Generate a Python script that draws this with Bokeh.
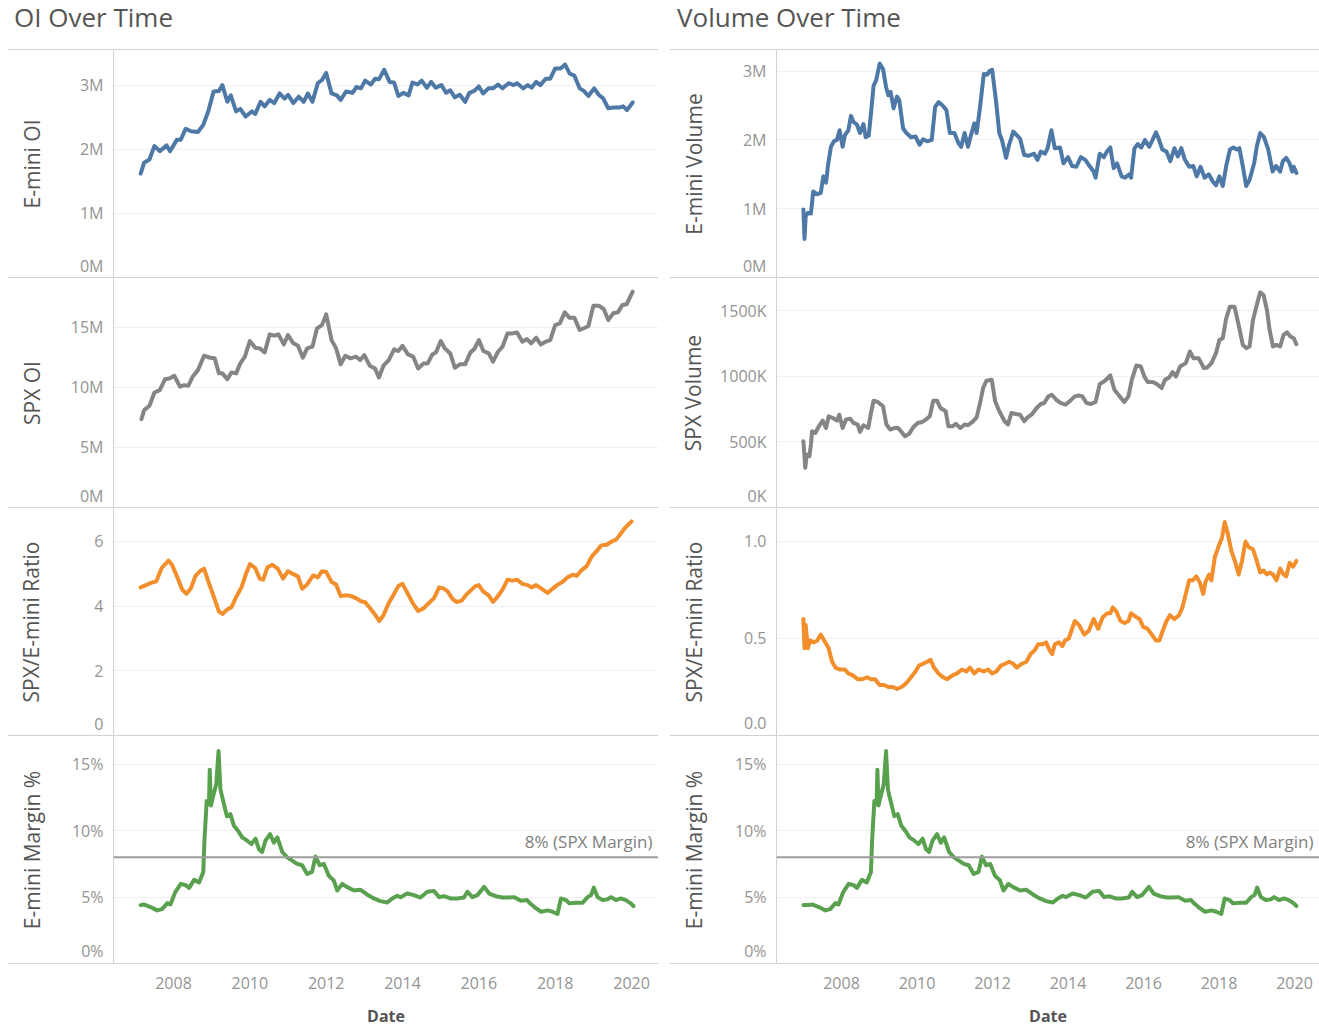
from bokeh.plotting import figure
from bokeh.models import Div, Span, Label, FixedTicker, PrintfTickFormatter, LinearAxis, Range1d
from bokeh.layouts import column, row
from bokeh.embed import file_html
from bokeh.resources import INLINE

# ---------------- data (decimal years, values) ----------------
emini_oi_t = [2007.14, 2007.23, 2007.37, 2007.50, 2007.64, 2007.82, 2007.91, 2008.09, 2008.19, 2008.32,
              2008.46, 2008.64, 2008.78, 2008.91, 2009.05, 2009.19, 2009.28, 2009.41, 2009.50, 2009.64,
              2009.75, 2009.89, 2010.05, 2010.14, 2010.28, 2010.39, 2010.52, 2010.64, 2010.78, 2010.91,
              2011.00, 2011.14, 2011.28, 2011.41, 2011.52, 2011.64, 2011.78, 2011.89, 2012.00, 2012.14,
              2012.28, 2012.38, 2012.52, 2012.69, 2012.79, 2012.91, 2013.02, 2013.17, 2013.28, 2013.38,
              2013.52, 2013.66, 2013.78, 2013.89, 2014.02, 2014.16, 2014.26, 2014.39, 2014.50, 2014.64,
              2014.75, 2014.87, 2015.02, 2015.14, 2015.25, 2015.37, 2015.50, 2015.64, 2015.75, 2015.88,
              2016.00, 2016.11, 2016.25, 2016.37, 2016.50, 2016.62, 2016.78, 2016.91, 2017.00, 2017.16,
              2017.28, 2017.38, 2017.50, 2017.61, 2017.75, 2017.87, 2018.00, 2018.14, 2018.26, 2018.38,
              2018.50, 2018.64, 2018.75, 2018.87, 2019.02, 2019.14, 2019.26, 2019.39, 2019.53, 2019.68,
              2019.78, 2019.88, 2020.03]
emini_oi_m = [1.62, 1.79, 1.84, 2.05, 1.97, 2.06, 1.97, 2.15, 2.15, 2.32,
              2.28, 2.27, 2.38, 2.59, 2.90, 2.91, 3.00, 2.74, 2.84, 2.59,
              2.63, 2.51, 2.59, 2.55, 2.74, 2.67, 2.77, 2.72, 2.87, 2.79,
              2.85, 2.72, 2.82, 2.74, 2.87, 2.74, 3.03, 3.08, 3.19, 2.87,
              2.84, 2.77, 2.90, 2.88, 2.97, 2.95, 3.07, 3.01, 3.10, 3.09,
              3.24, 3.05, 3.04, 2.83, 2.88, 2.84, 3.04, 3.01, 3.07, 2.96,
              3.05, 2.96, 3.00, 2.88, 2.92, 2.81, 2.85, 2.74, 2.88, 2.91,
              2.98, 2.87, 2.95, 2.95, 3.01, 2.95, 3.03, 3.00, 3.03, 2.95,
              3.00, 2.96, 3.05, 3.00, 3.10, 3.10, 3.26, 3.26, 3.32, 3.18,
              3.15, 2.95, 2.91, 2.83, 2.95, 2.85, 2.79, 2.64, 2.65, 2.65,
              2.67, 2.61, 2.73]

spx_oi_t = [2007.16, 2007.23, 2007.37, 2007.50, 2007.64, 2007.78, 2007.89, 2008.02, 2008.17, 2008.28,
            2008.39, 2008.50, 2008.64, 2008.80, 2008.96, 2009.08, 2009.19, 2009.28, 2009.41, 2009.52,
            2009.64, 2009.75, 2009.87, 2010.00, 2010.14, 2010.26, 2010.39, 2010.52, 2010.64, 2010.75,
            2010.89, 2011.00, 2011.14, 2011.26, 2011.39, 2011.50, 2011.64, 2011.76, 2011.89, 2012.00,
            2012.14, 2012.26, 2012.38, 2012.50, 2012.64, 2012.78, 2012.89, 2013.00, 2013.14, 2013.28,
            2013.38, 2013.50, 2013.64, 2013.78, 2013.89, 2014.00, 2014.14, 2014.28, 2014.41, 2014.55,
            2014.66, 2014.78, 2014.88, 2015.00, 2015.11, 2015.25, 2015.37, 2015.50, 2015.64, 2015.78,
            2015.88, 2016.00, 2016.12, 2016.26, 2016.37, 2016.50, 2016.62, 2016.75, 2016.88, 2017.00,
            2017.14, 2017.26, 2017.37, 2017.50, 2017.62, 2017.75, 2017.87, 2018.00, 2018.12, 2018.25,
            2018.37, 2018.50, 2018.64, 2018.78, 2018.87, 2019.00, 2019.14, 2019.27, 2019.39, 2019.52,
            2019.64, 2019.76, 2019.87, 2020.03]
spx_oi_m = [7.36, 8.11, 8.47, 9.58, 9.78, 10.69, 10.75, 10.97, 10.06, 10.19,
            10.14, 10.89, 11.44, 12.64, 12.47, 12.42, 11.17, 11.17, 10.69, 11.25,
            11.17, 12.00, 12.56, 13.86, 13.31, 13.25, 12.92, 14.42, 14.31, 14.42,
            13.58, 14.36, 13.67, 13.47, 12.47, 13.25, 13.39, 14.92, 15.19, 16.08,
            13.94, 13.25, 11.92, 12.64, 12.42, 12.56, 12.28, 12.69, 11.81, 11.58,
            10.83, 11.81, 12.28, 13.17, 13.03, 13.47, 12.75, 12.56, 11.58, 12.00,
            12.00, 12.75, 12.92, 13.86, 13.25, 12.83, 11.64, 11.92, 11.92, 12.92,
            13.19, 13.94, 13.03, 12.83, 12.14, 12.97, 13.39, 14.50, 14.50, 14.58,
            13.81, 14.03, 13.67, 14.14, 13.58, 13.81, 13.94, 15.19, 15.33, 16.25,
            15.81, 15.81, 14.78, 14.97, 15.11, 16.81, 16.81, 16.53, 15.61, 16.17,
            16.25, 16.86, 16.92, 17.97]

oi_ratio_t = [2007.14, 2007.28, 2007.41, 2007.55, 2007.69, 2007.87, 2007.96, 2008.09, 2008.23, 2008.34,
              2008.46, 2008.57, 2008.69, 2008.80, 2008.91, 2009.05, 2009.19, 2009.29, 2009.41, 2009.52,
              2009.64, 2009.78, 2009.89, 2010.00, 2010.14, 2010.26, 2010.35, 2010.46, 2010.59, 2010.73,
              2010.87, 2011.00, 2011.14, 2011.26, 2011.37, 2011.50, 2011.66, 2011.78, 2011.89, 2012.00,
              2012.14, 2012.26, 2012.38, 2012.52, 2012.66, 2012.79, 2012.91, 2013.02, 2013.14, 2013.28,
              2013.39, 2013.50, 2013.64, 2013.78, 2013.89, 2014.00, 2014.14, 2014.28, 2014.41, 2014.55,
              2014.69, 2014.82, 2014.96, 2015.08, 2015.18, 2015.32, 2015.41, 2015.55, 2015.66, 2015.78,
              2015.91, 2016.00, 2016.11, 2016.25, 2016.37, 2016.50, 2016.62, 2016.75, 2016.88, 2017.00,
              2017.14, 2017.28, 2017.38, 2017.50, 2017.64, 2017.80, 2017.93, 2018.05, 2018.19, 2018.32,
              2018.46, 2018.57, 2018.68, 2018.82, 2018.96, 2019.09, 2019.21, 2019.35, 2019.48, 2019.59,
              2019.71, 2019.82, 2020.00]
oi_ratio = [4.58, 4.65, 4.72, 4.77, 5.18, 5.41, 5.28, 4.92, 4.51, 4.38,
            4.56, 4.92, 5.08, 5.16, 4.77, 4.31, 3.83, 3.76, 3.90, 3.97,
            4.28, 4.58, 4.97, 5.30, 5.18, 4.85, 4.82, 5.20, 5.28, 5.16,
            4.85, 5.08, 4.99, 4.92, 4.54, 4.67, 4.95, 4.89, 5.08, 5.06,
            4.75, 4.67, 4.31, 4.34, 4.31, 4.24, 4.15, 4.12, 3.95, 3.74,
            3.54, 3.72, 4.10, 4.38, 4.62, 4.69, 4.38, 4.07, 3.85, 3.93,
            4.10, 4.24, 4.58, 4.54, 4.46, 4.21, 4.13, 4.17, 4.34, 4.48,
            4.62, 4.65, 4.46, 4.34, 4.13, 4.31, 4.51, 4.82, 4.79, 4.82,
            4.69, 4.65, 4.58, 4.65, 4.54, 4.41, 4.54, 4.65, 4.75, 4.89,
            4.97, 4.94, 5.10, 5.23, 5.54, 5.71, 5.88, 5.90, 6.00, 6.05,
            6.23, 6.41, 6.62]

emini_vol_t = [2006.99, 2007.02, 2007.05, 2007.11, 2007.19, 2007.25, 2007.36, 2007.45, 2007.52, 2007.59,
               2007.65, 2007.72, 2007.80, 2007.88, 2007.95, 2008.03, 2008.09, 2008.18, 2008.25, 2008.32,
               2008.41, 2008.49, 2008.58, 2008.64, 2008.72, 2008.78, 2008.85, 2008.92, 2009.01, 2009.10,
               2009.18, 2009.24, 2009.30, 2009.38, 2009.47, 2009.53, 2009.63, 2009.72, 2009.84, 2009.96,
               2010.07, 2010.16, 2010.27, 2010.39, 2010.48, 2010.57, 2010.68, 2010.78, 2010.87, 2010.99,
               2011.10, 2011.17, 2011.26, 2011.35, 2011.43, 2011.52, 2011.58, 2011.67, 2011.77, 2011.86,
               2011.92, 2011.99, 2012.09, 2012.18, 2012.25, 2012.36, 2012.44, 2012.55, 2012.64, 2012.73,
               2012.84, 2012.96, 2013.10, 2013.19, 2013.28, 2013.39, 2013.46, 2013.56, 2013.65, 2013.79,
               2013.88, 2014.00, 2014.11, 2014.22, 2014.34, 2014.46, 2014.57, 2014.68, 2014.73, 2014.84,
               2014.95, 2015.03, 2015.12, 2015.21, 2015.30, 2015.42, 2015.51, 2015.62, 2015.67, 2015.76,
               2015.85, 2015.94, 2016.04, 2016.15, 2016.24, 2016.33, 2016.40, 2016.50, 2016.61, 2016.71,
               2016.82, 2016.91, 2017.00, 2017.09, 2017.21, 2017.32, 2017.41, 2017.51, 2017.62, 2017.73,
               2017.83, 2017.92, 2018.01, 2018.10, 2018.19, 2018.29, 2018.38, 2018.47, 2018.54, 2018.63,
               2018.72, 2018.81, 2018.93, 2019.00, 2019.09, 2019.19, 2019.30, 2019.42, 2019.51, 2019.62,
               2019.69, 2019.78, 2019.87, 2019.94, 2019.98, 2020.05]
emini_vol_m = [0.99, 0.56, 0.89, 0.94, 0.93, 1.25, 1.21, 1.23, 1.47, 1.38,
               1.66, 1.90, 1.98, 2.00, 2.14, 1.90, 2.07, 2.14, 2.35, 2.26,
               2.22, 2.10, 2.23, 2.04, 2.06, 2.38, 2.79, 2.87, 3.11, 3.03,
               2.77, 2.65, 2.70, 2.46, 2.63, 2.58, 2.17, 2.10, 2.04, 2.05,
               1.93, 2.01, 1.98, 2.00, 2.48, 2.55, 2.50, 2.43, 2.10, 2.10,
               1.95, 1.90, 2.10, 1.90, 2.07, 2.24, 2.10, 2.48, 2.96, 2.95,
               3.00, 3.02, 2.58, 2.10, 2.00, 1.74, 1.93, 2.12, 2.07, 2.02,
               1.78, 1.77, 1.80, 1.71, 1.83, 1.80, 1.88, 2.14, 1.88, 1.89,
               1.66, 1.75, 1.62, 1.61, 1.75, 1.71, 1.62, 1.54, 1.45, 1.80,
               1.75, 1.83, 1.89, 1.59, 1.66, 1.47, 1.45, 1.50, 1.45, 1.88,
               1.94, 1.89, 2.00, 1.90, 2.00, 2.11, 2.02, 1.86, 1.83, 1.69,
               1.88, 1.76, 1.88, 1.72, 1.61, 1.62, 1.47, 1.61, 1.45, 1.50,
               1.40, 1.34, 1.47, 1.33, 1.62, 1.86, 1.89, 1.86, 1.88, 1.62,
               1.33, 1.42, 1.66, 1.90, 2.10, 2.04, 1.87, 1.54, 1.62, 1.54,
               1.69, 1.74, 1.66, 1.54, 1.61, 1.52]

spx_vol_t = [2006.99, 2007.04, 2007.08, 2007.15, 2007.19, 2007.22, 2007.31, 2007.40, 2007.50, 2007.59,
             2007.66, 2007.77, 2007.88, 2007.94, 2008.03, 2008.12, 2008.23, 2008.32, 2008.43, 2008.49,
             2008.58, 2008.71, 2008.78, 2008.85, 2008.96, 2009.10, 2009.19, 2009.29, 2009.41, 2009.50,
             2009.59, 2009.68, 2009.79, 2009.90, 2010.02, 2010.14, 2010.23, 2010.34, 2010.43, 2010.53,
             2010.62, 2010.76, 2010.83, 2010.94, 2011.03, 2011.15, 2011.26, 2011.35, 2011.47, 2011.58,
             2011.67, 2011.75, 2011.84, 2011.98, 2012.07, 2012.18, 2012.32, 2012.41, 2012.50, 2012.62,
             2012.73, 2012.84, 2012.93, 2013.05, 2013.17, 2013.28, 2013.37, 2013.48, 2013.57, 2013.69,
             2013.81, 2013.94, 2014.06, 2014.18, 2014.29, 2014.38, 2014.49, 2014.61, 2014.73, 2014.84,
             2014.98, 2015.12, 2015.23, 2015.35, 2015.49, 2015.60, 2015.69, 2015.81, 2015.93, 2016.02,
             2016.11, 2016.24, 2016.36, 2016.48, 2016.57, 2016.68, 2016.77, 2016.86, 2016.97, 2017.12,
             2017.23, 2017.32, 2017.46, 2017.60, 2017.69, 2017.80, 2017.92, 2018.01, 2018.10, 2018.19,
             2018.29, 2018.41, 2018.52, 2018.63, 2018.72, 2018.81, 2018.90, 2019.00, 2019.09, 2019.18,
             2019.27, 2019.34, 2019.43, 2019.52, 2019.62, 2019.71, 2019.80, 2019.89, 2019.98, 2020.05]
spx_vol_k = [505, 302, 404, 391, 480, 581, 568, 619, 662, 606,
             695, 682, 662, 707, 606, 670, 677, 644, 632, 576,
             627, 606, 720, 814, 804, 771, 632, 594, 606, 606,
             576, 543, 561, 611, 644, 652, 670, 695, 814, 814,
             758, 733, 619, 619, 637, 606, 632, 627, 652, 687,
             796, 910, 966, 973, 809, 733, 657, 632, 720, 712,
             707, 657, 687, 712, 758, 789, 796, 847, 859, 821,
             796, 784, 814, 847, 854, 847, 796, 789, 804, 940,
             966, 1006, 897, 854, 804, 847, 973, 1082, 1074, 999,
             956, 956, 940, 910, 973, 991, 1032, 999, 1074, 1100,
             1189, 1138, 1138, 1062, 1067, 1100, 1176, 1277, 1290, 1442,
             1530, 1530, 1391, 1239, 1214, 1227, 1429, 1543, 1639, 1619,
             1505, 1353, 1227, 1239, 1227, 1315, 1335, 1303, 1290, 1244]

vol_ratio_t = [2006.99, 2007.02, 2007.05, 2007.11, 2007.17, 2007.27, 2007.36, 2007.45, 2007.54, 2007.66,
               2007.75, 2007.84, 2007.95, 2008.09, 2008.18, 2008.30, 2008.43, 2008.55, 2008.67, 2008.78,
               2008.89, 2009.01, 2009.13, 2009.24, 2009.36, 2009.47, 2009.59, 2009.72, 2009.84, 2009.96,
               2010.05, 2010.16, 2010.27, 2010.36, 2010.45, 2010.57, 2010.69, 2010.80, 2010.94, 2011.06,
               2011.19, 2011.31, 2011.40, 2011.52, 2011.63, 2011.77, 2011.88, 2011.99, 2012.10, 2012.22,
               2012.34, 2012.44, 2012.55, 2012.64, 2012.78, 2012.90, 2013.01, 2013.12, 2013.21, 2013.33,
               2013.42, 2013.51, 2013.58, 2013.65, 2013.76, 2013.85, 2013.92, 2014.02, 2014.09, 2014.18,
               2014.29, 2014.43, 2014.55, 2014.68, 2014.80, 2014.92, 2015.04, 2015.12, 2015.19, 2015.28,
               2015.39, 2015.50, 2015.60, 2015.67, 2015.81, 2015.90, 2015.99, 2016.11, 2016.22, 2016.33,
               2016.42, 2016.51, 2016.61, 2016.70, 2016.82, 2016.94, 2017.03, 2017.12, 2017.21, 2017.30,
               2017.40, 2017.49, 2017.58, 2017.64, 2017.74, 2017.80, 2017.89, 2017.98, 2018.08, 2018.15,
               2018.22, 2018.33, 2018.42, 2018.52, 2018.61, 2018.70, 2018.79, 2018.90, 2019.00, 2019.09,
               2019.18, 2019.27, 2019.34, 2019.43, 2019.52, 2019.62, 2019.71, 2019.78, 2019.87, 2019.96,
               2020.05]
vol_ratio = [0.60, 0.45, 0.57, 0.45, 0.49, 0.48, 0.49, 0.52, 0.49, 0.45,
             0.38, 0.35, 0.34, 0.34, 0.32, 0.31, 0.29, 0.29, 0.30, 0.29,
             0.29, 0.26, 0.26, 0.25, 0.25, 0.24, 0.25, 0.27, 0.30, 0.33,
             0.36, 0.37, 0.38, 0.39, 0.35, 0.32, 0.30, 0.29, 0.31, 0.32,
             0.34, 0.33, 0.35, 0.32, 0.34, 0.33, 0.34, 0.32, 0.33, 0.36,
             0.37, 0.38, 0.37, 0.35, 0.37, 0.38, 0.42, 0.44, 0.47, 0.47,
             0.48, 0.44, 0.42, 0.47, 0.48, 0.46, 0.49, 0.50, 0.54, 0.59,
             0.57, 0.52, 0.54, 0.60, 0.55, 0.61, 0.63, 0.63, 0.66, 0.64,
             0.59, 0.58, 0.59, 0.63, 0.61, 0.60, 0.56, 0.55, 0.52, 0.49,
             0.49, 0.54, 0.59, 0.62, 0.60, 0.62, 0.66, 0.73, 0.80, 0.80,
             0.82, 0.79, 0.73, 0.79, 0.83, 0.80, 0.92, 0.97, 1.02, 1.10,
             1.05, 0.95, 0.90, 0.83, 0.90, 1.00, 0.97, 0.96, 0.90, 0.84,
             0.85, 0.83, 0.84, 0.83, 0.80, 0.86, 0.83, 0.82, 0.89, 0.87,
             0.90]

margin_t = [2006.99, 2007.14, 2007.22, 2007.40, 2007.57, 2007.70, 2007.84, 2007.92,
            2008.05, 2008.19, 2008.32, 2008.41, 2008.54, 2008.67, 2008.78, 2008.81, 2008.87, 2008.93, 2008.95, 2008.98,
            2009.05, 2009.12, 2009.18, 2009.23, 2009.30, 2009.40, 2009.49, 2009.58, 2009.69, 2009.80, 2009.93,
            2010.04, 2010.15, 2010.24, 2010.32, 2010.41, 2010.53, 2010.63, 2010.72, 2010.85, 2010.98,
            2011.11, 2011.24, 2011.37, 2011.50, 2011.63, 2011.72, 2011.83, 2011.94,
            2012.07, 2012.20, 2012.29, 2012.42, 2012.55, 2012.73, 2012.90,
            2013.07, 2013.25, 2013.42, 2013.60, 2013.73, 2013.86, 2013.95,
            2014.12, 2014.30, 2014.47, 2014.65, 2014.82, 2014.96,
            2015.08, 2015.26, 2015.43, 2015.61, 2015.70, 2015.83, 2015.96,
            2016.14, 2016.27, 2016.44, 2016.62, 2016.75, 2016.93,
            2017.10, 2017.26, 2017.36, 2017.50, 2017.63, 2017.80, 2017.93,
            2018.06, 2018.15, 2018.28, 2018.37, 2018.54, 2018.72, 2018.85, 2018.94,
            2019.01, 2019.11, 2019.24, 2019.37, 2019.46, 2019.59, 2019.72, 2019.85, 2019.98, 2020.05]
margin_pct = [4.4, 4.4, 4.45, 4.25, 4.0, 4.1, 4.55, 4.45,
              5.4, 6.0, 5.9, 5.7, 6.3, 6.1, 6.9, 9.25, 12.25, 12.0, 14.6, 11.9,
              12.75, 13.5, 16.0, 13.1, 12.25, 11.1, 11.25, 10.4, 10.0, 9.5, 9.25,
              9.0, 9.4, 8.6, 8.4, 9.25, 9.75, 9.1, 9.5, 8.4, 8.0,
              7.75, 7.5, 7.4, 6.75, 6.9, 8.05, 7.4, 7.5,
              6.6, 6.25, 5.5, 6.0, 5.75, 5.5, 5.55,
              5.2, 4.9, 4.7, 4.6, 4.9, 5.1, 5.0,
              5.27, 5.15, 4.97, 5.4, 5.47, 5.0,
              5.07, 4.9, 4.9, 4.97, 5.4, 5.0, 5.15,
              5.77, 5.27, 5.07, 4.97, 4.97, 5.0,
              4.73, 4.78, 4.48, 4.15, 3.9, 4.0, 3.9,
              3.73, 4.9, 4.78, 4.53, 4.58, 4.58, 5.0, 5.15,
              5.72, 5.0, 4.78, 4.83, 5.0, 4.78, 4.9, 4.78, 4.53, 4.33]

SPX_MARGIN = 8
OI_START = 2007.1   # OI panels begin slightly later than the volume panels
year_ticks = [2008, 2010, 2012, 2014, 2016, 2018, 2020]

# ---------------- style ----------------
FONT = "Open Sans"
BORDER = "#d2d2d2"
GRID = "#f0f0f0"
TICK_C = "#949494"
TXT_C = "#555555"
BLUE, GRAY, ORANGE, GREEN = "#4e79a7", "#858585", "#f28e2b", "#59a14f"
ZERO_LIFT_PX = 12   # the zero label sits inside the pane, like the original

LEFT_W, LEFT_B, LEFT_X = 650, 105, (2006.428, 2020.706)
RIGHT_W, RIGHT_B, RIGHT_X = 649, 106, (2006.278, 2020.662)


def panel(width, border_left, xr, height, t, v, color, ytop, ticks, fmt, zero_txt,
          ylabel, lab_standoff, right_border, ref=False):
    p = figure(width=width, height=height, x_range=Range1d(*xr), y_range=Range1d(0, ytop),
               x_axis_location=None, toolbar_location=None, output_backend="svg", title=None,
               min_border_left=border_left, min_border_right=0, min_border_top=0, min_border_bottom=0,
               margin=(0, 0, 0, 0))
    p.outline_line_color = None
    p.xgrid.grid_line_color = None
    zero_at = round(ytop * ZERO_LIFT_PX / height, 4)
    ax = p.yaxis[0]
    ax.ticker = FixedTicker(ticks=[zero_at] + ticks)
    ax.formatter = PrintfTickFormatter(format=fmt)
    ax.major_label_overrides = {zero_at: zero_txt}
    ax.major_tick_line_color = None
    ax.minor_tick_line_color = None
    ax.major_tick_out = 0
    ax.major_tick_in = 0
    ax.minor_tick_out = 0
    ax.axis_line_color = BORDER
    ax.major_label_standoff = 10
    ax.major_label_text_font = FONT
    ax.major_label_text_font_size = "16px"
    ax.major_label_text_color = TICK_C
    ax.axis_label = ylabel
    ax.axis_label_text_font = FONT
    ax.axis_label_text_font_size = "21px"
    ax.axis_label_text_font_style = "normal"
    ax.axis_label_text_color = TXT_C
    ax.axis_label_standoff = lab_standoff
    yg = p.ygrid[0]
    yg.ticker = FixedTicker(ticks=ticks)
    yg.grid_line_color = GRID
    if right_border:
        rb = LinearAxis(ticker=FixedTicker(ticks=[]), major_tick_out=0, major_tick_in=0,
                        minor_tick_out=0, minor_tick_in=0, major_label_text_font_size="0px",
                        major_label_standoff=0, axis_line_color=BORDER)
        p.add_layout(rb, "right")
    if ref:
        p.add_layout(Span(location=SPX_MARGIN, dimension="width", line_color="#9c9c9c", line_width=2))
        p.add_layout(Label(x=xr[1], y=SPX_MARGIN, text=f"{SPX_MARGIN}% (SPX Margin)", x_offset=-6,
                           y_offset=4, text_align="right", text_baseline="bottom", text_font=FONT,
                           text_font_size="17px", text_color="#808080"))
    p.line(t, v, line_color=color, line_width=4, line_join="round", line_cap="round")
    return p


def axis_fig(width, border_left, xr):
    p = figure(width=width, height=61, x_range=Range1d(*xr), y_range=Range1d(0, 1),
               y_axis_location=None, toolbar_location=None, output_backend="svg", title=None,
               min_border_left=border_left, min_border_right=0, min_border_top=0, min_border_bottom=58,
               margin=(0, 0, 0, 0))
    p.outline_line_color = None
    p.xgrid.grid_line_color = None
    p.ygrid.grid_line_color = None
    ax = p.xaxis[0]
    ax.ticker = FixedTicker(ticks=year_ticks)
    ax.formatter = PrintfTickFormatter(format="%d")
    ax.axis_line_color = None
    ax.major_tick_line_color = None
    ax.minor_tick_line_color = None
    ax.major_tick_out = 0
    ax.major_tick_in = 0
    ax.minor_tick_out = 0
    ax.major_label_standoff = 12
    ax.major_label_text_font = FONT
    ax.major_label_text_font_size = "16px"
    ax.major_label_text_color = TICK_C
    ax.axis_label = "Date"
    ax.axis_label_text_font = FONT
    ax.axis_label_text_font_size = "16px"
    ax.axis_label_text_font_style = "bold"
    ax.axis_label_text_color = TXT_C
    ax.axis_label_standoff = 13
    return p


def title_div(text, width, pad):
    html = (f'<div style="font-family:\'{FONT}\';font-size:26px;color:{TXT_C};line-height:26px;'
            f'padding-top:4px;padding-left:{pad}px;white-space:nowrap">{text}</div>')
    return Div(text=html, width=width, height=49, margin=(0, 0, 0, 0))


def sep(width):
    return Div(text="", width=width, height=1, margin=(0, 0, 0, 0),
               styles={"background-color": BORDER})


margin_left_t = [t for t in margin_t if t >= OI_START]
margin_left_v = [v for t, v in zip(margin_t, margin_pct) if t >= OI_START]

L = dict(width=LEFT_W, border_left=LEFT_B, xr=LEFT_X, right_border=True)
R = dict(width=RIGHT_W, border_left=RIGHT_B, xr=RIGHT_X, right_border=False)

left = column(
    title_div("OI Over Time", LEFT_W, 6), sep(LEFT_W),
    panel(height=227, t=emini_oi_t, v=emini_oi_m, color=BLUE, ytop=3.54, ticks=[1, 2, 3], fmt="%dM",
          zero_txt="0M", ylabel="E-mini OI", lab_standoff=31, **L), sep(LEFT_W),
    panel(height=229, t=spx_oi_t, v=spx_oi_m, color=GRAY, ytop=19.07, ticks=[5, 10, 15], fmt="%dM",
          zero_txt="0M", ylabel="SPX OI", lab_standoff=22, **L), sep(LEFT_W),
    panel(height=227, t=oi_ratio_t, v=oi_ratio, color=ORANGE, ytop=7.02, ticks=[2, 4, 6], fmt="%d",
          zero_txt="0", ylabel="SPX/E-mini Ratio", lab_standoff=46, **L), sep(LEFT_W),
    panel(height=227, t=margin_left_t, v=margin_left_v, color=GREEN, ytop=17.1, ticks=[5, 10, 15],
          fmt="%d%%", zero_txt="0%", ylabel="E-mini Margin %", lab_standoff=23, ref=True, **L), sep(LEFT_W),
    axis_fig(LEFT_W, LEFT_B, LEFT_X),
    spacing=0)

right = column(
    title_div("Volume Over Time", RIGHT_W, 7), sep(RIGHT_W),
    panel(height=227, t=emini_vol_t, v=emini_vol_m, color=BLUE, ytop=3.30, ticks=[1, 2, 3], fmt="%dM",
          zero_txt="0M", ylabel="E-mini Volume", lab_standoff=32, **R), sep(RIGHT_W),
    panel(height=229, t=spx_vol_t, v=spx_vol_k, color=GRAY, ytop=1745, ticks=[500, 1000, 1500], fmt="%dK",
          zero_txt="0K", ylabel="SPX Volume", lab_standoff=10, **R), sep(RIGHT_W),
    panel(height=227, t=vol_ratio_t, v=vol_ratio, color=ORANGE, ytop=1.17, ticks=[0.5, 1.0], fmt="%.1f",
          zero_txt="0.0", ylabel="SPX/E-mini Ratio", lab_standoff=33, **R), sep(RIGHT_W),
    panel(height=227, t=margin_t, v=margin_pct, color=GREEN, ytop=17.1, ticks=[5, 10, 15],
          fmt="%d%%", zero_txt="0%", ylabel="E-mini Margin %", lab_standoff=24, ref=True, **R), sep(RIGHT_W),
    axis_fig(RIGHT_W, RIGHT_B, RIGHT_X),
    spacing=0)

layout = row(left, right, spacing=12, margin=(0, 0, 0, 8))

open("out.html", "w").write(file_html(layout, INLINE, title="OI and Volume Over Time"))
